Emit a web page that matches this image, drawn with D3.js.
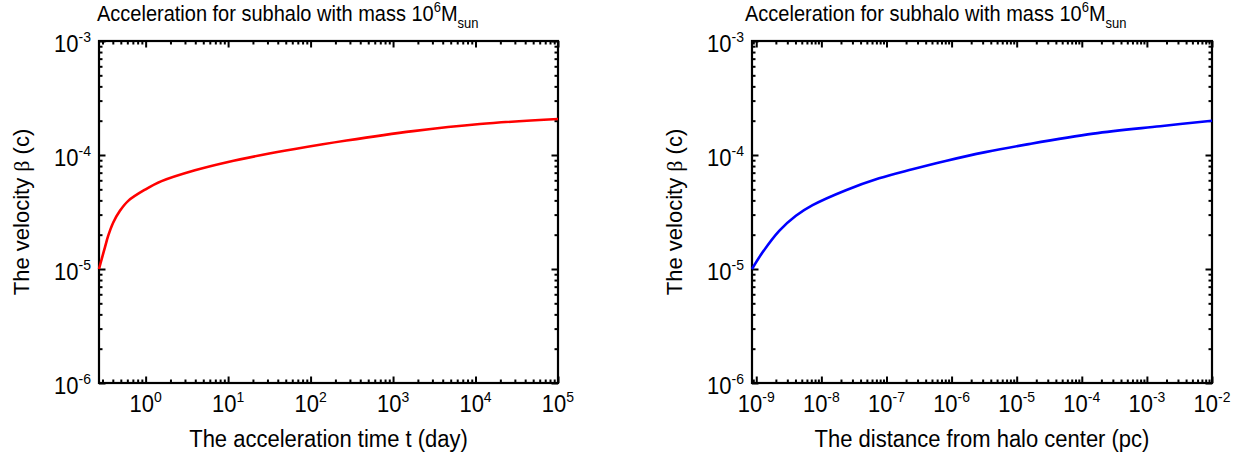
<!DOCTYPE html>
<html>
<head>
<meta charset="utf-8">
<script src="https://cdn.jsdelivr.net/npm/d3@7"></script>
<style>
  html, body { margin: 0; padding: 0; background: #fff; }
  svg { display: block; font-family: "Liberation Sans", Arial, sans-serif; }
</style>
</head>
<body>
<svg id="fig" width="1243" height="460"></svg>
<script>
// Velocity of the accelerated particle versus acceleration time (days)
const timeDays = [0.272, 0.293, 0.321, 0.352, 0.405, 0.488, 0.615, 1.0, 1.56, 3.96, 10, 25.5, 64.5, 273, 1750, 11300, 1e5];
const betaTime = [1.0e-5, 1.22e-5, 1.55e-5, 1.96e-5, 2.56e-5, 3.24e-5, 3.96e-5, 5.0e-5, 5.9e-5, 7.35e-5, 8.7e-5, 1.0e-4, 1.13e-4, 1.34e-4, 1.62e-4, 1.87e-4, 2.07e-4];

// Velocity versus distance from the halo centre (pc)
const distancePc = [8.6e-10, 1.25e-9, 2.25e-9, 4.06e-9, 7.33e-9, 2.38e-8, 7.7e-8, 2.5e-7, 8.1e-7, 3.3e-6, 1.45e-5, 1.5e-4, 1.6e-3, 1e-2];
const betaDistance = [1.0e-5, 1.40e-5, 2.16e-5, 2.93e-5, 3.63e-5, 4.91e-5, 6.25e-5, 7.5e-5, 8.87e-5, 1.06e-4, 1.24e-4, 1.54e-4, 1.79e-4, 2.0e-4];

// Axis ranges and decade tick exponents
const timeDomain = [0.272, 1e5];
const timeExponents = [0, 1, 2, 3, 4, 5];
const distDomain = [8.6e-10, 1e-2];
const distExponents = [-9, -8, -7, -6, -5, -4, -3, -2];
const betaDomain = [1e-6, 1e-3];
const betaExponents = [-6, -5, -4, -3];

const titleMain = "Acceleration for subhalo with mass 10";
const yTitleParts = ["The velocity ", "\u03b2", " (c)"];
const xTitles = ["The acceleration time t (day)", "The distance from halo center (pc)"];

const svg = d3.select("#fig");
const SY = 1.1; // glyphs are drawn slightly taller than wide

// text anchored at (x, y) with a mild vertical stretch
function label(parent, x, y, size, anchor) {
  return parent.append("g").attr("transform", `translate(${x},${y}) scale(1,${SY})`)
    .append("text").attr("font-size", size).attr("text-anchor", anchor || "start")
    .attr("fill", "#000");
}

function drawPanel(opt) {
  const { left, right, top, bottom } = opt;
  const x = d3.scaleLog().domain(opt.xDomain).range([left, right]);
  const y = d3.scaleLog().domain(betaDomain).range([bottom, top]);
  const g = svg.append("g");

  const majorLen = 6.5, minorLen = 3.5;
  const xMinor = x.ticks().filter(v => !opt.xExp.some(e => Math.abs(Math.log10(v) - e) < 1e-6));
  const yMinor = y.ticks().filter(v => !betaExponents.some(e => Math.abs(Math.log10(v) - e) < 1e-6));
  const xMajor = opt.xExp.map(e => Math.pow(10, e));
  const yMajor = betaExponents.map(e => Math.pow(10, e));

  function ticks(axisFn, scale, values, len, transform) {
    const a = g.append("g").attr("transform", transform)
      .call(axisFn(scale).tickValues(values).tickSize(len).tickSizeOuter(0).tickFormat(""));
    a.select(".domain").remove();
    a.selectAll("line").attr("stroke", "#000").attr("stroke-width", 2);
  }
  // inward ticks on all four sides
  ticks(d3.axisBottom, x, xMajor, -majorLen, `translate(0,${bottom})`);
  ticks(d3.axisBottom, x, xMinor, -minorLen, `translate(0,${bottom})`);
  ticks(d3.axisTop, x, xMajor, -majorLen, `translate(0,${top})`);
  ticks(d3.axisTop, x, xMinor, -minorLen, `translate(0,${top})`);
  ticks(d3.axisLeft, y, yMajor, -majorLen, `translate(${left},0)`);
  ticks(d3.axisLeft, y, yMinor, -minorLen, `translate(${left},0)`);
  ticks(d3.axisRight, y, yMajor, -majorLen, `translate(${right},0)`);
  ticks(d3.axisRight, y, yMinor, -minorLen, `translate(${right},0)`);

  // frame
  g.append("rect").attr("x", left).attr("y", top)
    .attr("width", right - left).attr("height", bottom - top)
    .attr("fill", "none").attr("stroke", "#000").attr("stroke-width", 2.2);

  // data curve
  const line = d3.line().x(d => x(d[0])).y(d => y(d[1])).curve(d3.curveCatmullRom.alpha(0.5));
  g.append("path").datum(opt.xs.map((v, i) => [v, opt.ys[i]]))
    .attr("d", line).attr("fill", "none").attr("stroke", opt.color)
    .attr("stroke-width", 2.6).attr("stroke-linejoin", "round");

  // x tick labels 10^n
  opt.xExp.forEach(e => {
    const t = label(g, x(Math.pow(10, e)), bottom + 29, 22, "middle");
    t.append("tspan").text("10");
    t.append("tspan").attr("font-size", 14).attr("dy", -9).text(e);
  });
  // y tick labels 10^n
  betaExponents.forEach(e => {
    const t = label(g, left - 8, y(Math.pow(10, e)) + 11, 22, "end");
    t.append("tspan").text("10");
    t.append("tspan").attr("font-size", 14).attr("dy", -9).text(e);
  });

  // title
  const tt = label(g, left + opt.titleShift, 21, 20);
  tt.append("tspan").text(titleMain);
  tt.append("tspan").attr("font-size", 13).attr("dy", -8).text("6");
  tt.append("tspan").attr("dy", 8).text("M");
  tt.append("tspan").attr("font-size", 13).attr("dy", 6).text("sun");

  // axis titles
  label(g, (left + right) / 2, bottom + 64, 22, "middle").text(opt.xTitle);
  const yt = g.append("text")
    .attr("transform", `translate(${left - 70},${(top + bottom) / 2}) rotate(-90)`)
    .attr("text-anchor", "middle").attr("font-size", 22).attr("fill", "#000");
  yt.append("tspan").text(yTitleParts[0]);
  yt.append("tspan").attr("font-family", "'Liberation Serif', serif").text(yTitleParts[1]);
  yt.append("tspan").text(yTitleParts[2]);
}

drawPanel({
  left: 99, right: 558, top: 41, bottom: 383,
  xDomain: timeDomain, xExp: timeExponents,
  xs: timeDays, ys: betaTime, color: "#ff0000",
  xTitle: xTitles[0], titleShift: -2
});
drawPanel({
  left: 752, right: 1212, top: 41, bottom: 383,
  xDomain: distDomain, xExp: distExponents,
  xs: distancePc, ys: betaDistance, color: "#0000ff",
  xTitle: xTitles[1], titleShift: -7
});
</script>
</body>
</html>
